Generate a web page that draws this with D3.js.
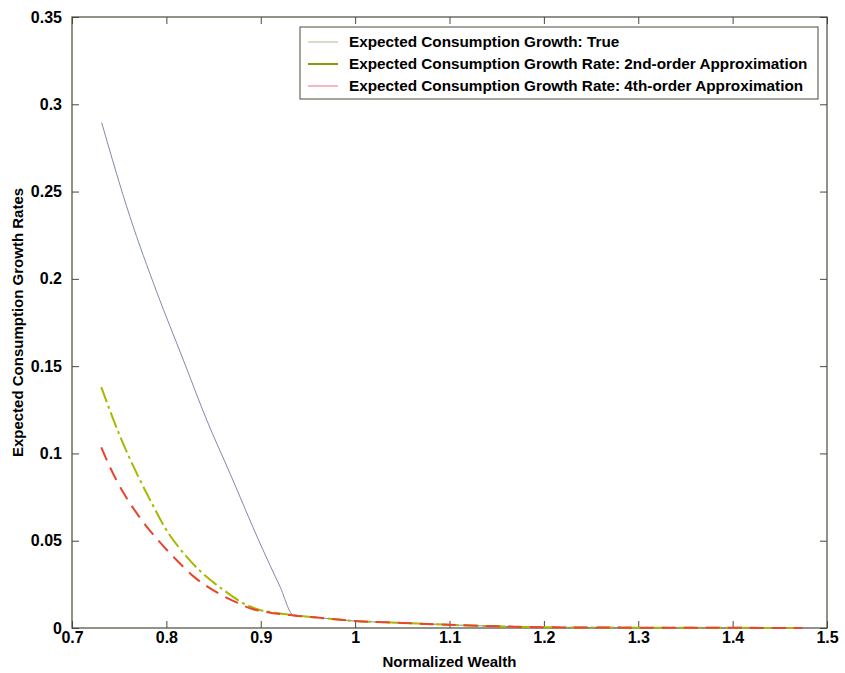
<!DOCTYPE html>
<html><head><meta charset="utf-8">
<script src="https://cdn.jsdelivr.net/npm/d3@7"></script>
<style>body{margin:0;background:#fff}</style>
</head><body><svg id="c" width="845" height="673"></svg>
<script>
const xTicks = [0.7,0.8,0.9,1,1.1,1.2,1.3,1.4,1.5];
const yTicks = [0,0.05,0.1,0.15,0.2,0.25,0.3,0.35];
const seriesNames = ["Expected Consumption Growth: True","Expected Consumption Growth Rate: 2nd-order Approximation","Expected Consumption Growth Rate: 4th-order Approximation"];
const tailX = [0.96,1.0,1.05,1.1,1.15,1.2,1.3,1.4,1.474];
const tailY = [0.0060,0.0040,0.0029,0.0018,0.0010,0.0004,0.0002,0.0001,0.0];
const trueX = [0.7314,0.7614,0.7897,0.818,0.8427,0.8674,0.8992,0.9204,0.9345];
const trueY = [0.2895,0.2356,0.1926,0.1535,0.1192,0.0886,0.0485,0.0237,0.0074];
const secondX = [0.731,0.75,0.770,0.785,0.799,0.818,0.837,0.86,0.885,0.899,0.915,0.9345];
const secondY = [0.138,0.111,0.087,0.071,0.057,0.043,0.032,0.022,0.0132,0.0103,0.0088,0.0074];
const fourthX = [0.731,0.740,0.755,0.770,0.790,0.809,0.830,0.855,0.875,0.892,0.910,0.9345];
const fourthY = [0.1035,0.0924,0.077,0.0647,0.051,0.0399,0.029,0.0199,0.0145,0.0107,0.0088,0.0072];
const colors = ["#8088b0","#a9b800","#e8452c"];
const legendColors = ["#c8d0b8","#8a9a00","#f0a0a8"];
const dashes = [null,"16,4,3,4","14,8"];

const svg = d3.select("#c");
const L=72,R=827,T=17,B=628;
const x = d3.scaleLinear().domain([0.7,1.5]).range([L,R]);
const y = d3.scaleLinear().domain([0,0.35]).range([B,T]);
const axisColor="#4a4a3a";
const font="'Liberation Sans', Arial, sans-serif";

function mk(xs,ys){return xs.map((v,i)=>[v,ys[i]]).concat(tailX.map((v,i)=>[v,tailY[i]]));}
const data=[mk(trueX,trueY),mk(secondX,secondY),mk(fourthX,fourthY)];
const line=d3.line().x(d=>x(d[0])).y(d=>y(d[1])).curve(d3.curveMonotoneX);

// axes
const gx=svg.append("g").attr("transform",`translate(0,${B})`).call(d3.axisBottom(x).tickValues(xTicks).tickFormat(d3.format("")).tickSize(-7).tickPadding(4));
const gxt=svg.append("g").attr("transform",`translate(0,${T})`).call(d3.axisTop(x).tickValues(xTicks).tickFormat("").tickSize(-7));
const gy=svg.append("g").attr("transform",`translate(${L},0)`).call(d3.axisLeft(y).tickValues(yTicks).tickFormat(d3.format("")).tickSize(-7).tickPadding(10));
const gyr=svg.append("g").attr("transform",`translate(${R},0)`).call(d3.axisRight(y).tickValues(yTicks).tickFormat("").tickSize(-7));
[gx,gxt,gy,gyr].forEach(g=>{g.select(".domain").remove();g.selectAll("line").attr("stroke",axisColor);g.selectAll("text").attr("fill","#000").style("font-family",font).style("font-size","16px").style("font-weight","bold");});
svg.append("rect").attr("x",L).attr("y",T).attr("width",R-L).attr("height",B-T).attr("fill","none").attr("stroke",axisColor).attr("stroke-width",1.2);

// lines
data.forEach((d,i)=>{
  const p=svg.append("path").datum(d).attr("d",line).attr("fill","none").attr("stroke",colors[i]).attr("stroke-width",i==0?1:2);
  if(dashes[i]) p.attr("stroke-dasharray",dashes[i]);
});

// labels
svg.append("text").attr("x",(L+R)/2).attr("y",667).attr("text-anchor","middle").style("font-family",font).style("font-size","15px").style("font-weight","bold").text("Normalized Wealth");
svg.append("text").attr("transform",`translate(23,${(T+B)/2}) rotate(-90)`).attr("text-anchor","middle").style("font-family",font).style("font-size","15px").style("font-weight","bold").text("Expected Consumption Growth Rates");

// legend
const lg=svg.append("g");
lg.append("rect").attr("x",300).attr("y",27).attr("width",518).attr("height",72).attr("fill","#fff").attr("stroke",axisColor).attr("stroke-width",1);
seriesNames.forEach((n,i)=>{
  const yy=42+i*22;
  lg.append("line").attr("x1",308).attr("x2",338).attr("y1",yy).attr("y2",yy).attr("stroke",legendColors[i]).attr("stroke-width",i==1?2:1.5);
  lg.append("text").attr("x",349).attr("y",yy+5).style("font-family",font).style("font-size","15.3px").style("font-weight","bold").text(n);
});
</script></body></html>
